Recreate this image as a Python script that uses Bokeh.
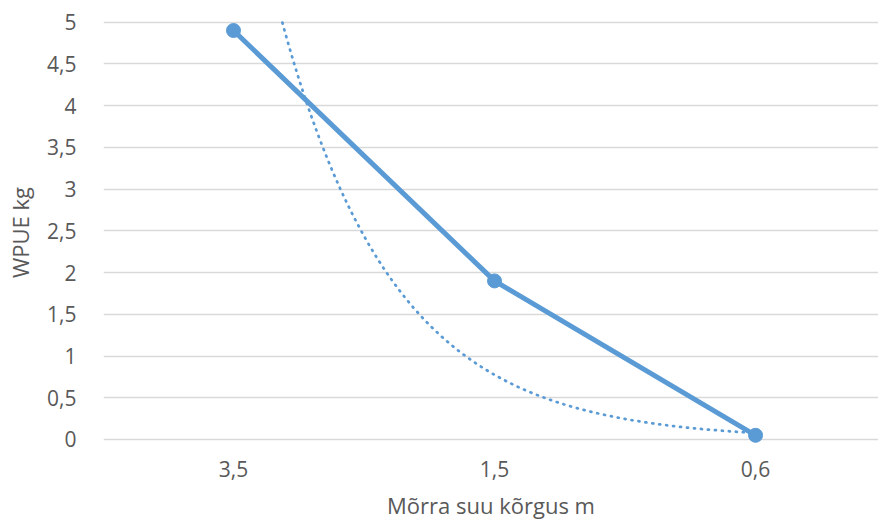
import numpy as np
from bokeh.plotting import figure
from bokeh.models import FixedTicker, Range1d
from bokeh.embed import file_html
from bokeh.resources import INLINE

categories = ["3,5", "1,5", "0,6"]
wpue = [4.9, 1.9, 0.05]
y_ticks = [0, 0.5, 1, 1.5, 2, 2.5, 3, 3.5, 4, 4.5, 5]
y_tick_labels = ["0", "0,5", "1", "1,5", "2", "2,5", "3", "3,5", "4", "4,5", "5"]

xs = np.arange(1, len(categories) + 1)
# Exponential trendline (least squares on log values), as Excel does
b, ln_a = np.polyfit(xs, np.log(wpue), 1)
tx = np.linspace(1, 3, 300)
ty = np.exp(ln_a + b * tx)
mask = ty <= 5.0
tx, ty = tx[mask], ty[mask]

FONT = "Open Sans"
COL = "#5B9BD5"
TXT = "#595959"

p = figure(width=878, height=523, output_backend="svg", toolbar_location=None,
           x_range=Range1d(0.502, 3.471), y_range=Range1d(-0.06, 5.02),
           min_border_left=103, min_border_right=0, min_border_top=20, min_border_bottom=79)
p.outline_line_color = None
p.background_fill_color = "white"
p.border_fill_color = "white"

p.line(tx, ty, line_color=COL, line_width=2.75, line_dash="1 6", line_cap="round")
p.line(xs, wpue, line_color=COL, line_width=5)
p.scatter(xs, wpue, size=14, fill_color=COL, line_color=COL)

p.xaxis.ticker = FixedTicker(ticks=list(xs))
p.xaxis.major_label_overrides = {int(x): c for x, c in zip(xs, categories)}
p.yaxis.ticker = FixedTicker(ticks=y_ticks)
p.yaxis.major_label_overrides = {t: l for t, l in zip(y_ticks, y_tick_labels)}

for ax in (p.xaxis, p.yaxis):
    ax.axis_line_color = None
    ax.major_tick_line_color = None
    ax.minor_tick_line_color = None
    ax.major_label_text_font = FONT
    ax.major_label_text_font_size = "21px"
    ax.major_label_text_color = TXT
    ax.axis_label_text_font = FONT
    ax.axis_label_text_font_size = "22px"
    ax.axis_label_text_font_style = "normal"
    ax.axis_label_text_color = TXT

p.xaxis.axis_label = "Mõrra suu kõrgus m"
p.yaxis.axis_label = "WPUE kg"
p.xaxis.major_label_standoff = 10
p.xaxis.axis_label_standoff = 10
p.yaxis.major_label_standoff = 21
p.yaxis.axis_label_standoff = 9

p.xgrid.grid_line_color = None
p.ygrid.grid_line_color = "#D9D9D9"
p.ygrid.grid_line_width = 1.5

open("out.html", "w").write(file_html(p, INLINE))
